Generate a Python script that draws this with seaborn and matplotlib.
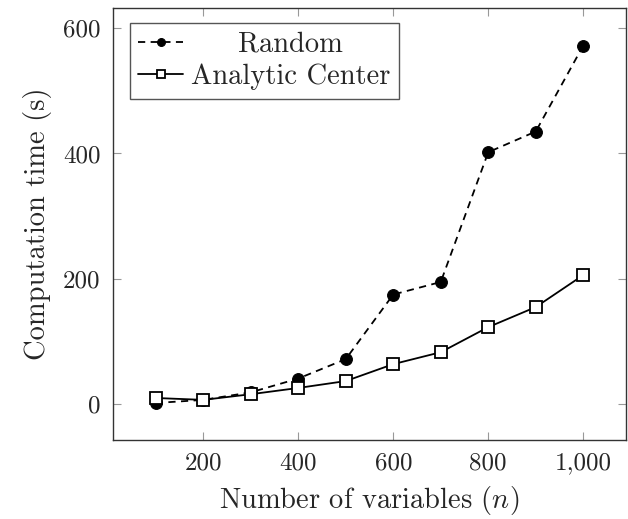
import matplotlib
matplotlib.use("Agg")
import matplotlib.pyplot as plt
from matplotlib.transforms import Affine2D
import seaborn as sns
import pandas as pd

n_vars = [100, 200, 300, 400, 500, 600, 700, 800, 900, 1000]
random_time = [2, 7, 19, 41, 72, 175, 195, 402, 435, 572]
analytic_time = [10, 7, 16, 26, 37, 64, 83, 123, 155, 206]
x_ticks = [200, 400, 600, 800, 1000]
x_tick_labels = ["200", "400", "600", "800", "1,000"]
y_ticks = [0, 200, 400, 600]

sns.set_style("ticks")
plt.rcParams["font.family"] = ["serif"]
plt.rcParams["font.serif"] = ["cmr10", "DejaVu Serif"]
plt.rcParams["mathtext.fontset"] = "cm"
plt.rcParams["axes.unicode_minus"] = False

df = pd.DataFrame({
    "n": n_vars * 2,
    "time": random_time + analytic_time,
    "method": ["Random"] * len(n_vars) + ["Analytic Center"] * len(n_vars),
})

fig = plt.figure(figsize=(6.28, 5.19), dpi=100)
ax = fig.add_axes([113 / 628, 1 - 440 / 519, (626 - 113) / 628, (440 - 8) / 519])

sns.lineplot(data=df[df.method == "Random"], x="n", y="time", ax=ax,
             color="black", linestyle=(0, (4, 3)), linewidth=1.3,
             marker="o", markersize=8.5, markerfacecolor="black",
             markeredgecolor="black", label="Random")
sns.lineplot(data=df[df.method == "Analytic Center"], x="n", y="time", ax=ax,
             color="black", linestyle="-", linewidth=1.3,
             marker="s", markersize=8.5, markerfacecolor="white",
             markeredgecolor="black", markeredgewidth=1.3,
             label="Analytic Center")

ax.set_xlim(10, 1090)
ax.set_ylim(-57, 632)
ax.set_xticks(x_ticks)
ax.set_xticklabels(x_tick_labels)
ax.set_yticks(y_ticks)
ax.tick_params(direction="in", length=6, width=0.8, color="#999999",
               top=True, right=True, labelsize=18, pad=9)
for s in ax.spines.values():
    s.set_linewidth(1.0)
    s.set_color("#333333")
ax.set_xlabel("Number of variables $(n)$", fontsize=20.5, labelpad=7)
ax.set_ylabel("Computation time (s)", fontsize=20.5, labelpad=8)

leg = ax.legend(loc="upper left", fontsize=20.5, frameon=True, fancybox=False,
                edgecolor="#555555", framealpha=1, handlelength=1.55,
                handletextpad=0.3, borderpad=0.3, labelspacing=0.2,
                markerscale=0.67,
                bbox_to_anchor=(0.033, 0.965), borderaxespad=0)
leg.get_frame().set_linewidth(1.0)

# center the shorter legend entry relative to the longer one (as in the original)
fig.canvas.draw()
r = fig.canvas.get_renderer()
texts = leg.get_texts()
w = [t.get_window_extent(r).width for t in texts]
dx = (max(w) - w[0]) / 2
texts[0].set_transform(texts[0].get_transform() + Affine2D().translate(dx, 0))

fig.savefig("out.png", dpi=100)
